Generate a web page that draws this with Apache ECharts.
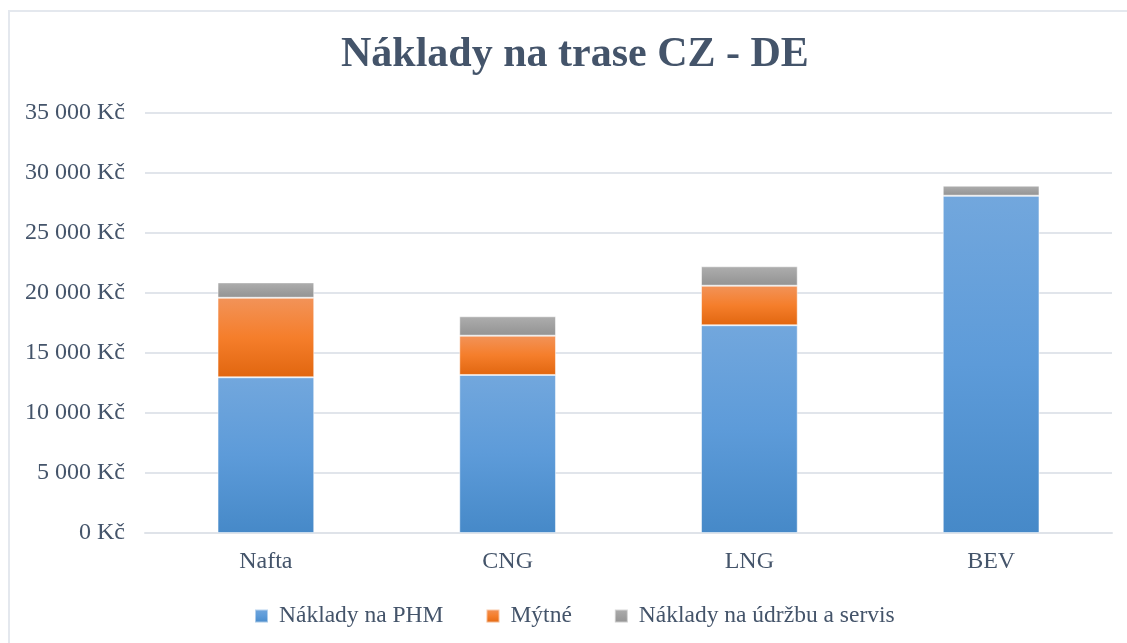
<!DOCTYPE html>
<html>
<head>
<meta charset="utf-8">
<script src="https://cdn.jsdelivr.net/npm/echarts@6/dist/echarts.min.js"></script>
<style>
html,body{margin:0;padding:0;background:#fff;overflow:hidden;width:1127px;height:643px;}
#frame{position:absolute;left:8px;top:10px;width:1119px;height:633px;border-left:2px solid #e4e8ee;border-top:2px solid #e4e8ee;box-sizing:border-box;}
#chart{position:absolute;left:0;top:0;width:1127px;height:643px;}
</style>
</head>
<body>
<div id="frame"></div>
<div id="chart"></div>
<script>
const categories = ['Nafta', 'CNG', 'LNG', 'BEV'];
const seriesNames = ['Náklady na PHM', 'Mýtné', 'Náklady na údržbu a servis'];
const phm = [12975, 13170, 17310, 28110];
const mytne = [6630, 3275, 3300, 0];
const servis = [1280, 1615, 1615, 835];
const yTicks = [0, 5000, 10000, 15000, 20000, 25000, 30000, 35000];

function grad(top, mid, bottom) {
  return new echarts.graphic.LinearGradient(0, 0, 0, 1, [
    {offset: 0, color: top}, {offset: 0.5, color: mid}, {offset: 1, color: bottom}
  ]);
}
const font = '"Liberation Serif", "Times New Roman", serif';
const txt = '#44546a';
const chart = echarts.init(document.getElementById('chart'));
chart.setOption({
  animation: false,
  title: {
    text: 'Náklady na trase CZ - DE',
    left: 336, top: 29,
    textStyle: {fontFamily: font, fontSize: 42, fontWeight: 'bold', color: txt}
  },
  legend: {
    top: 599, left: 249,
    itemWidth: 13, itemHeight: 13, itemGap: 42,
    icon: 'rect',
    textStyle: {fontFamily: font, fontSize: 23.5, color: txt, padding: [0, 0, 0, 6]},
    data: seriesNames
  },
  grid: {left: 145, right: 15, top: 113, bottom: 110, containLabel: false},
  xAxis: {
    type: 'category', data: categories,
    axisTick: {show: false},
    axisLine: {lineStyle: {color: '#dfe3e9', width: 2}},
    axisLabel: {fontFamily: font, fontSize: 24, color: txt, margin: 17}
  },
  yAxis: {
    type: 'value', min: yTicks[0], max: yTicks[yTicks.length - 1], interval: 5000,
    axisLine: {show: false}, axisTick: {show: false},
    splitLine: {lineStyle: {color: '#e1e5eb', width: 2}},
    axisLabel: {
      fontFamily: font, fontSize: 24, color: txt, margin: 20,
      formatter: v => String(v).replace(/\B(?=(\d{3})+(?!\d))/g, ' ') + ' Kč'
    }
  },
  series: [
    {name: seriesNames[0], type: 'bar', stack: 's', data: phm, barWidth: '40%',
     itemStyle: {color: grad('#72a7dd', '#5d9bd9', '#4689c8'), borderColor: 'rgba(255,255,255,0.5)', borderWidth: 1}},
    {name: seriesNames[1], type: 'bar', stack: 's', data: mytne,
     itemStyle: {color: grad('#f29359', '#f57e2b', '#e1660f'), borderColor: 'rgba(255,255,255,0.5)', borderWidth: 1}},
    {name: seriesNames[2], type: 'bar', stack: 's', data: servis,
     itemStyle: {color: grad('#aeaeae', '#a0a0a0', '#939393'), borderColor: 'rgba(255,255,255,0.5)', borderWidth: 1}}
  ]
});
</script>
</body>
</html>
